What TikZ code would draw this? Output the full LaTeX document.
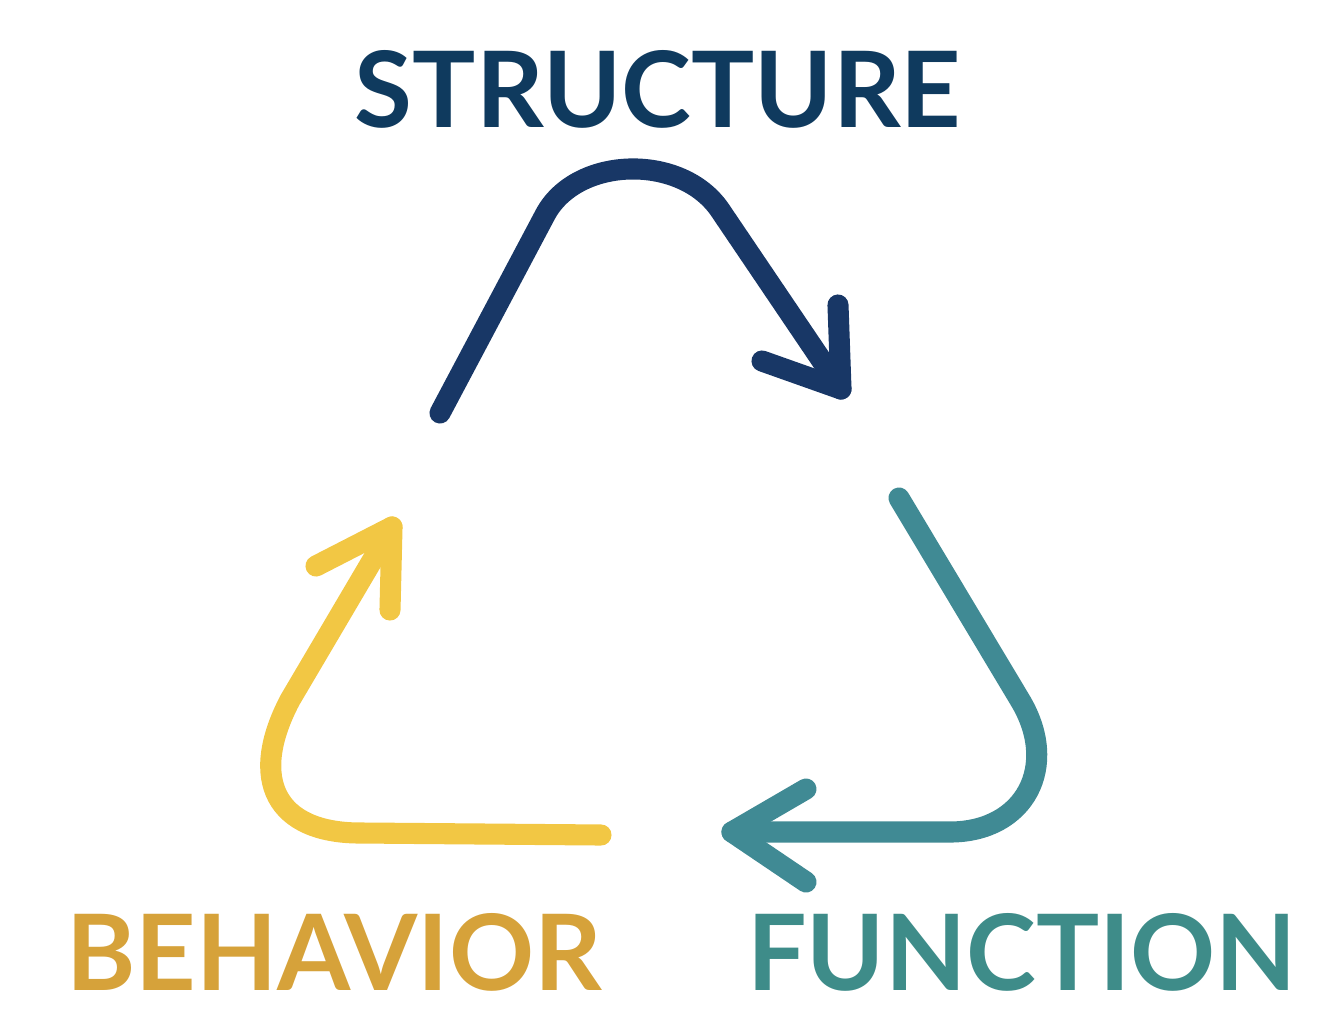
\documentclass[tikz,border=0pt]{standalone}
\usepackage{fontspec}
\setmainfont{Lato}
\usetikzlibrary{positioning}
\definecolor{navyarrow}{HTML}{183766}
\definecolor{navytext}{HTML}{0F3A5E}
\definecolor{tealarrow}{HTML}{408A94}
\definecolor{tealtext}{HTML}{3E8C89}
\definecolor{goldarrow}{HTML}{F2C744}
\definecolor{goldtext}{HTML}{D6A23A}

\begin{document}
\begin{tikzpicture}[x=0.1mm, y=-0.1mm,
  cyc/.style={line width=6pt, line cap=round, line join=round},
  lbl/.style={font=\fontsize{30}{36}\selectfont\bfseries, inner sep=0pt, anchor=base}]
  \useasboundingbox (0,0) rectangle (1328,1026);

  % labels
  \node[lbl, navytext] (structure) at (658,127) {STRUCTURE};
  \node[lbl, goldtext] (behavior) at (334,990) {BEHAVIOR};
  \node[lbl, tealtext] (function) at (1022,990) {FUNCTION};

  % structure -> function
  \coordinate (s0) at (440,413);
  \coordinate (s1) at (545,215);
  \coordinate (s2) at (720,210);
  \coordinate (stip) at (841,389);
  \draw[cyc, navyarrow] (s0) -- (s1) .. controls (576,156) and (681,153) .. (s2) -- (stip);
  \draw[cyc, navyarrow] (838,305) -- (stip) -- (762,361);

  % function -> behavior
  \coordinate (f0) at (899,498);
  \coordinate (f1) at (1020,700);
  \coordinate (f2) at (950,832);
  \coordinate (ftip) at (732,832);
  \draw[cyc, tealarrow] (f0) -- (f1) .. controls (1060,766) and (1025,832) .. (f2) -- (ftip);
  \draw[cyc, tealarrow] (806,789) -- (ftip) -- (806,882);

  % behavior -> structure
  \coordinate (b0) at (601,835);
  \coordinate (b1) at (360,833);
  \coordinate (b2) at (290,700);
  \coordinate (btip) at (392,527);
  \draw[cyc, goldarrow] (b0) -- (b1) .. controls (276,833) and (248,780) .. (b2) -- (btip);
  \draw[cyc, goldarrow] (316,566) -- (btip) -- (390,610);
\end{tikzpicture}
\end{document}
